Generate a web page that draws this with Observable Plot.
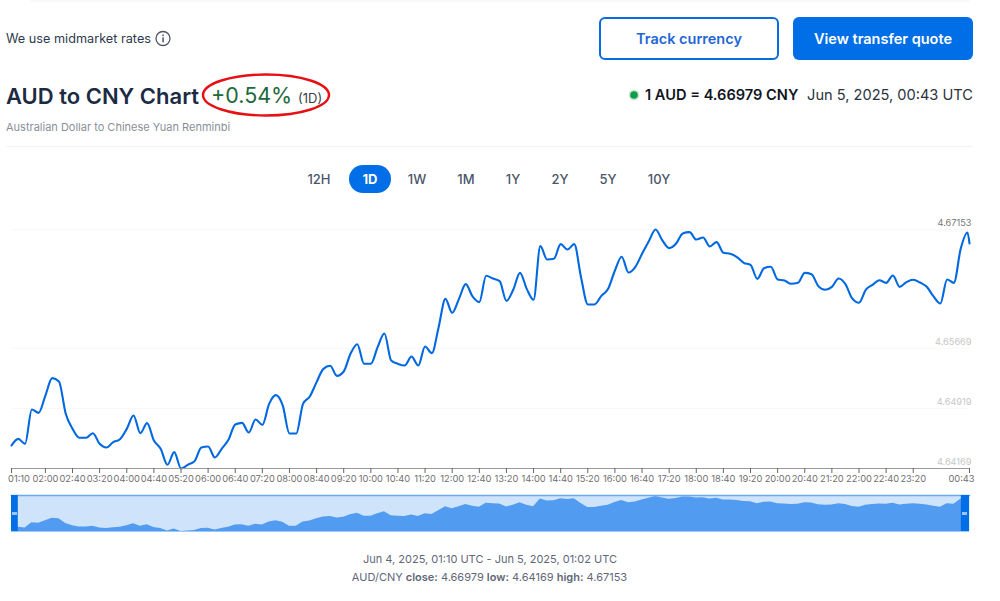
<!DOCTYPE html>
<html><head><meta charset="utf-8">
<script src="https://cdn.jsdelivr.net/npm/d3@7"></script>
<script src="https://cdn.jsdelivr.net/npm/@observablehq/plot@0.6"></script>
<style>
html,body{margin:0;padding:0;background:#fff}
body{width:1000px;height:601px;position:relative;overflow:hidden;font-family:Inter,sans-serif;color:#1c2b44}
.t{position:absolute;white-space:nowrap;line-height:1}
.abs{position:absolute}
.btn{position:absolute;box-sizing:border-box;top:17px;height:43px;border-radius:6px;display:flex;align-items:center;justify-content:center;font-weight:600;font-size:14.5px}
.tab{position:absolute;top:172px;width:44px;text-align:center;font-size:13px;font-weight:500;color:#4b5568;line-height:14px}
svg{font-family:Inter,sans-serif}
</style></head><body>
<div class="abs" style="left:30px;top:0;width:940px;height:3px;background:linear-gradient(#f7f7f8,#fff)"></div>
<div class="t" id="mid" style="left:6px;top:33px;font-size:12.7px;color:#2f3b4c">We use midmarket rates</div>
<svg class="abs" style="left:154px;top:29px" width="18" height="18"><circle cx="9" cy="9.5" r="7" fill="none" stroke="#4b5563" stroke-width="1.3"/><rect x="8.3" y="8.3" width="1.5" height="5" fill="#4b5563"/><rect x="8.3" y="5.5" width="1.5" height="1.6" fill="#4b5563"/></svg>
<div class="btn" style="left:599px;width:180px;border:2px solid #0a6be0;color:#1f66d6">Track currency</div>
<div class="btn" style="left:793px;width:180px;background:#006ee6;color:#fff">View transfer quote</div>
<div class="t" style="left:6px;top:85px;font-size:22px;font-weight:600;color:#1c2b44">AUD to CNY Chart</div>
<div class="t" style="left:211px;top:85px;font-size:21.5px;color:#1d6a3a">+0.54%</div>
<div class="t" style="left:298px;top:92px;font-size:13px;color:#3a3f4a">(1D)</div>
<svg class="abs" style="left:198px;top:70px" width="136" height="50"><ellipse cx="68" cy="25" rx="63" ry="20.5" fill="none" stroke="#e60f14" stroke-width="2.4"/></svg>
<div class="t" style="left:6px;top:122px;font-size:11px;color:#8a8f99">Australian Dollar to Chinese Yuan Renminbi</div>
<svg class="abs" style="left:627px;top:88px" width="14" height="14"><circle cx="7" cy="7" r="5.5" fill="#cfe6d8"/><circle cx="7" cy="7" r="3.8" fill="#0f9d4a"/></svg>
<div class="t" style="left:645px;top:88px;font-size:14.6px;font-weight:600;color:#10151f">1 AUD = 4.66979 CNY</div>
<div class="t" style="right:27px;top:88px;font-size:14.6px;color:#2b3340">Jun 5, 2025, 00:43 UTC</div>
<div class="abs" style="left:6px;top:146px;width:967px;height:1px;background:#f2f4f9"></div>
<div class="abs" style="left:349px;top:165px;width:42px;height:28px;border-radius:14px;background:#006ee6"></div>
<div id="tabs"></div>
<div id="main" class="abs" style="left:0;top:200px"></div>
<div id="nav" class="abs" style="left:0;top:490px"></div>
<div class="abs" style="left:12px;top:512px;width:5px;height:3px;background:#9fc4f2"></div>
<div class="abs" style="left:962px;top:512px;width:5px;height:3px;background:#9fc4f2"></div>
<div class="t" style="left:0;width:980px;text-align:center;top:554px;font-size:11px;color:#5f6778">Jun 4, 2025, 01:10 UTC - Jun 5, 2025, 01:02 UTC</div>
<div class="t" style="left:0;width:979px;text-align:center;top:572px;font-size:11px;color:#5f6778">AUD/CNY <b style="font-weight:600">close:</b> 4.66979 <b style="font-weight:600">low:</b> 4.64169 <b style="font-weight:600">high:</b> 4.67153</div>
<script>
const tabLabels=["12H","1D","1W","1M","1Y","2Y","5Y","10Y"];
const tabCenters=[319,370,417,466,513,560,608,659];
const tickLabels=["01:10","02:00","02:40","03:20","04:00","04:40","05:20","06:00","06:40","07:20","08:00","08:40","09:20","10:00","10:40","11:20","12:00","12:40","13:20","14:00","14:40","15:20","16:00","16:40","17:20","18:00","18:40","19:20","20:00","20:40","21:20","22:00","22:40","23:20","00:43"];
const yLabels=[4.64169,4.64919,4.65669,4.67153];
// rate every 10 minutes from 01:10 on Jun 4, then the last quote at 00:43 on Jun 5
const rates=[4.64456,4.64539,4.64477,4.64906,4.64864,4.65080,4.65297,4.65255,4.64852,4.64664,
4.64552,4.64552,4.64610,4.64477,4.64431,4.64498,4.64535,4.64664,4.64831,4.64610,
4.64735,4.64519,4.64415,4.64215,4.64373,4.64169,4.64215,4.64261,4.64431,4.64444,
4.64306,4.64415,4.64527,4.64718,4.64739,4.64618,4.64781,4.64714,4.64976,4.65085,
4.64956,4.64606,4.64606,4.64976,4.65068,4.65247,4.65413,4.65451,4.65326,4.65380,
4.65601,4.65721,4.65476,4.65476,4.65684,4.65855,4.65517,4.65476,4.65455,4.65567,
4.65455,4.65692,4.65609,4.65934,4.66287,4.66113,4.66287,4.66471,4.66317,4.66246,
4.66575,4.66541,4.66508,4.66262,4.66400,4.66612,4.66412,4.66275,4.66945,4.66779,
4.66787,4.66970,4.66903,4.66970,4.66558,4.66217,4.66217,4.66325,4.66412,4.66641,
4.66812,4.66616,4.66683,4.66849,4.67007,4.67153,4.67016,4.66920,4.66974,4.67103,
4.67120,4.67028,4.67053,4.66941,4.66995,4.66862,4.66849,4.66808,4.66737,4.66712,
4.66537,4.66670,4.66687,4.66529,4.66516,4.66475,4.66487,4.66612,4.66595,4.66446,
4.66400,4.66437,4.66541,4.66471,4.66292,4.66238,4.66400,4.66462,4.66520,4.66487,
4.66579,4.66437,4.66496,4.66525,4.66491,4.66437,4.66317,4.66229,4.66529,4.66487,
4.66912,4.67116,4.66979];

const tabs=document.getElementById("tabs");
tabLabels.forEach((l,i)=>{const d=document.createElement("div");d.className="tab";d.textContent=l;d.style.left=(tabCenters[i]-22)+"px";if(l==="1D"){d.style.color="#fff";d.style.fontWeight="700";}tabs.appendChild(d);});

const MIN=60000;
const start=Date.UTC(2025,5,4,1,10), end=Date.UTC(2025,5,5,0,43);
const data=rates.map((v,i)=>({t:new Date(i===rates.length-1?end:start+i*10*MIN),v}));
const toDate=s=>{const [h,m]=s.split(":").map(Number);return new Date(Date.UTC(2025,5,h===0?5:4,h,m));};
const ticks=tickLabels.map(toDate);
const xDomain=[new Date(start),new Date(end)];
const middle=tickLabels.slice(1,-1);
const axisFont=9.3;

document.getElementById("main").append(Plot.plot({
  width:1000,height:290,marginLeft:11,marginRight:31,marginTop:29,marginBottom:22,
  x:{type:"utc",domain:xDomain},
  y:{domain:[4.64169,4.67153],range:[268,29],axis:null},
  marks:[
    Plot.ruleY(yLabels.slice(1),{stroke:"#f8f8f8",strokeWidth:1}),
    Plot.line(data,{x:"t",y:"v",stroke:"#0068e0",strokeWidth:2.1,curve:"monotone-x"}),
    Plot.ruleY([4.64169],{stroke:"#9a9a9a",strokeWidth:1.2}),
    Plot.axisX(ticks,{fill:"none",stroke:"#666",tickSize:5,label:null}),
    Plot.text(ticks.slice(1,-1),{x:d=>d,y:()=>4.64169,dy:11,text:(d,i)=>middle[i],fill:"#707070",fontSize:axisFont}),
    Plot.text([ticks[0]],{x:d=>d,y:()=>4.64169,dy:11,dx:7.5,text:()=>tickLabels[0],fill:"#707070",fontSize:axisFont}),
    Plot.text([ticks[ticks.length-1]],{x:d=>d,y:()=>4.64169,dy:11,dx:-8,text:()=>tickLabels[tickLabels.length-1],fill:"#707070",fontSize:axisFont}),
    Plot.text(yLabels.slice(3),{x:()=>xDomain[1],y:d=>d,dx:2,dy:-6.5,text:d=>d.toFixed(5),textAnchor:"end",fill:"#777",fontSize:9.2}),
    Plot.text(yLabels.slice(0,3),{x:()=>xDomain[1],y:d=>d,dx:2,dy:-6.5,text:d=>d.toFixed(5),textAnchor:"end",fill:"#c6c6c6",fontSize:9.2})
  ]
}));

document.getElementById("nav").append(Plot.plot({
  width:1000,height:42,marginLeft:11,marginRight:31,marginTop:5,marginBottom:1,
  x:{type:"utc",domain:xDomain,axis:null},
  y:{domain:[4.64169,4.67153],range:[41,6],axis:null},
  marks:[
    Plot.frame({fill:"#cfe3fb",stroke:null}),
    Plot.areaY(data,{x:"t",y1:()=>4.64169,y2:"v",fill:"#519cf0",fillOpacity:1}),
    Plot.ruleY([4.64169],{stroke:"#519cf0",dy:0.5,strokeWidth:1}),
    Plot.frame({anchor:"top",stroke:"#6aa9f0",strokeWidth:1.5}),
    Plot.rectX([0],{x1:()=>xDomain[0],x2:()=>new Date(start+10*MIN),fill:"#006ee6"}),
    Plot.rectX([0],{x1:()=>new Date(end-12*MIN),x2:()=>xDomain[1],fill:"#006ee6"})
  ]
}));
</script>
</body></html>
